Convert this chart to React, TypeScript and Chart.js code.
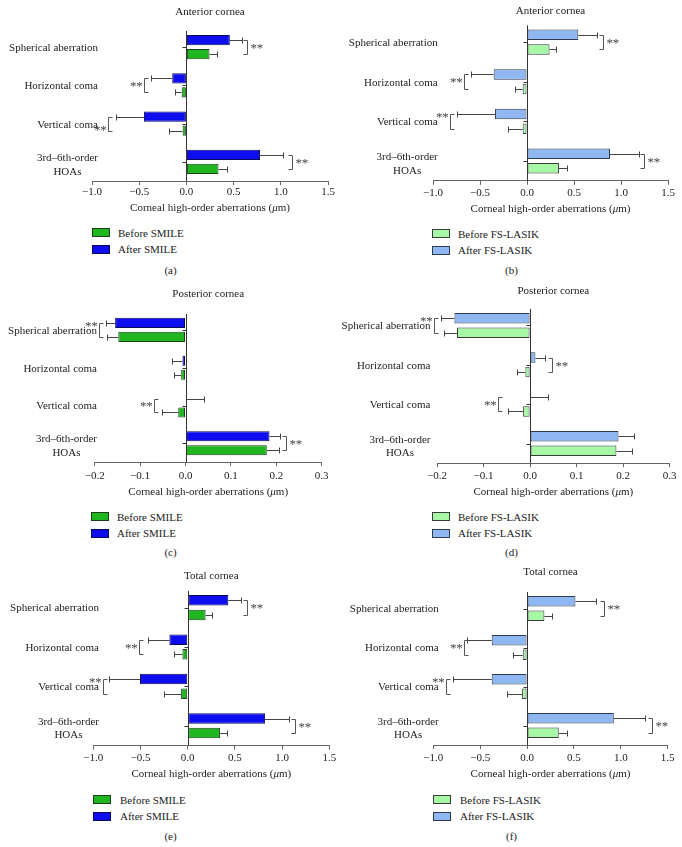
import React, { useEffect, useRef } from "react";
import { Chart, registerables } from "chart.js";

Chart.register(...registerables);

const FONT = "'Liberation Serif', 'Times New Roman', serif";

// ---------- shared text ----------
const CATEGORIES: (string | string[])[] = [
  "Spherical aberration",
  "Horizontal coma",
  "Vertical coma",
  ["3rd\u20136th-order", "HOAs"],
];
const X_TITLE_PARTS = ["Corneal high-order aberrations (", "\u03bc", "m)"];
const SMILE_LEGEND = ["Before SMILE", "After SMILE"];
const LASIK_LEGEND = ["Before FS-LASIK", "After FS-LASIK"];

// x ranges: [min, max, step]
const RANGE_WIDE = [-1.0, 1.5, 0.5];
const RANGE_POST = [-0.2, 0.3, 0.1];

// ---------- (a) Anterior cornea, SMILE ----------
const A_BEFORE = [0.245, -0.05, -0.04, 0.34];
const A_BEFORE_ERR = [0.08, 0.075, 0.14, 0.09];
const A_AFTER = [0.46, -0.15, -0.45, 0.78];
const A_AFTER_ERR = [0.125, 0.22, 0.3, 0.24];
// [category, x value, side, star position]
const A_SIG: [number, number, string, string][] = [
  [0, 0.645, "R", "mid"],
  [1, -0.445, "L", "mid"],
  [2, -0.835, "L", "bottom"],
  [3, 1.12, "R", "mid"],
];

// ---------- (b) Anterior cornea, FS-LASIK ----------
const B_BEFORE = [0.24, -0.046, -0.046, 0.34];
const B_BEFORE_ERR = [0.07, 0.084, 0.154, 0.09];
const B_AFTER = [0.546, -0.355, -0.34, 0.883];
const B_AFTER_ERR = [0.194, 0.245, 0.4, 0.312];
const B_SIG: [number, number, string, string][] = [
  [0, 0.81, "R", "mid"],
  [1, -0.67, "L", "mid"],
  [2, -0.82, "L", "top"],
  [3, 1.24, "R", "mid"],
];

// ---------- (c) Posterior cornea, SMILE ----------
const C_BEFORE = [-0.148, -0.0095, -0.016, 0.179];
const C_BEFORE_ERR = [0.024, 0.0165, 0.035, 0.026];
const C_AFTER = [-0.155, -0.0066, 0.001, 0.185];
const C_AFTER_ERR = [0.021, 0.024, 0.039, 0.024];
const C_SIG: [number, number, string, string][] = [
  [0, -0.19, "L", "top"],
  [2, -0.069, "L", "mid"],
  [3, 0.222, "R", "mid"],
];

// ---------- (d) Posterior cornea, FS-LASIK ----------
const D_BEFORE = [-0.157, -0.01, -0.015, 0.1855];
const D_BEFORE_ERR = [0.028, 0.019, 0.032, 0.0325];
const D_AFTER = [-0.1626, 0.0115, 0.001, 0.19];
const D_AFTER_ERR = [0.028, 0.0195, 0.038, 0.034];
const D_SIG: [number, number, string, string][] = [
  [0, -0.206, "L", "top"],
  [1, 0.047, "R", "mid"],
  [2, -0.0695, "L", "mid"],
];

// ---------- (e) Total cornea, SMILE ----------
const E_BEFORE = [0.19, -0.056, -0.07, 0.343];
const E_BEFORE_ERR = [0.07, 0.089, 0.177, 0.07];
const E_AFTER = [0.43, -0.194, -0.505, 0.82];
const E_AFTER_ERR = [0.13, 0.23, 0.328, 0.253];
const E_SIG: [number, number, string, string][] = [
  [0, 0.625, "R", "mid"],
  [1, -0.52, "L", "mid"],
  [2, -0.893, "L", "top"],
  [3, 1.137, "R", "mid"],
];

// ---------- (f) Total cornea, FS-LASIK ----------
const F_BEFORE = [0.185, -0.046, -0.053, 0.338];
const F_BEFORE_ERR = [0.078, 0.1, 0.164, 0.089];
const F_AFTER = [0.516, -0.377, -0.377, 0.925];
const F_AFTER_ERR = [0.22, 0.263, 0.416, 0.334];
const F_SIG: [number, number, string, string][] = [
  [0, 0.825, "R", "mid"],
  [1, -0.676, "L", "mid"],
  [2, -0.864, "L", "top"],
  [3, 1.33, "R", "mid"],
];

// ---------- styles ----------
const SMILE_COLORS = { before: "#20b620", beforeBorder: "#1d3f1d", after: "#0d0df0", afterBorder: "#0a0a5a" };
const LASIK_COLORS = { before: "#a6f7a6", beforeBorder: "#3a3a3a", after: "#8fb8f2", afterBorder: "#2f3a4a" };

type Layout = {
  col: number; row: number;
  left: number; right: number; top: number; bottom: number;
  titleCY: number; tickCY: number; xTitleCY: number; labelRight: number;
  legX: number; legY: number; legTextX: number; capY: number;
};

type PanelCfg = {
  title: string; caption: string;
  before: number[]; beforeErr: number[]; after: number[]; afterErr: number[];
  sig: [number, number, string, string][];
  range: number[]; legend: string[]; colors: typeof SMILE_COLORS; L: Layout;
};

const PANELS: PanelCfg[] = [
  {
    title: "Anterior cornea", caption: "(a)", before: A_BEFORE, beforeErr: A_BEFORE_ERR, after: A_AFTER, afterErr: A_AFTER_ERR,
    sig: A_SIG, range: RANGE_WIDE, legend: SMILE_LEGEND, colors: SMILE_COLORS,
    L: { col: 0, row: 0, left: 92, right: 328, top: 28, bottom: 181, titleCY: 12, tickCY: 192.5, xTitleCY: 208.3, labelRight: 98,
      legX: 92, legY: 228, legTextX: 118, capY: 270 },
  },
  {
    title: "Anterior cornea", caption: "(b)", before: B_BEFORE, beforeErr: B_BEFORE_ERR, after: B_AFTER, afterErr: B_AFTER_ERR,
    sig: B_SIG, range: RANGE_WIDE, legend: LASIK_LEGEND, colors: LASIK_COLORS,
    L: { col: 341, row: 0, left: 92, right: 327, top: 22.3, bottom: 180.8, titleCY: 11, tickCY: 193, xTitleCY: 209, labelRight: 96.7,
      legX: 91, legY: 229, legTextX: 117, capY: 270 },
  },
  {
    title: "Posterior cornea", caption: "(c)", before: C_BEFORE, beforeErr: C_BEFORE_ERR, after: C_AFTER, afterErr: C_AFTER_ERR,
    sig: C_SIG, range: RANGE_POST, legend: SMILE_LEGEND, colors: SMILE_COLORS,
    L: { col: 0, row: 280, left: 94.7, right: 321.7, top: 31, bottom: 182.2, titleCY: 14, tickCY: 195.7, xTitleCY: 212, labelRight: 97,
      legX: 91, legY: 232, legTextX: 117, capY: 272 },
  },
  {
    title: "Posterior cornea", caption: "(d)", before: D_BEFORE, beforeErr: D_BEFORE_ERR, after: D_AFTER, afterErr: D_AFTER_ERR,
    sig: D_SIG, range: RANGE_POST, legend: LASIK_LEGEND, colors: LASIK_COLORS,
    L: { col: 341, row: 280, left: 96, right: 328.7, top: 25.8, bottom: 183.2, titleCY: 11, tickCY: 196, xTitleCY: 212, labelRight: 89.5,
      legX: 91, legY: 232, legTextX: 117, capY: 272 },
  },
  {
    title: "Total cornea", caption: "(e)", before: E_BEFORE, beforeErr: E_BEFORE_ERR, after: E_AFTER, afterErr: E_AFTER_ERR,
    sig: E_SIG, range: RANGE_WIDE, legend: SMILE_LEGEND, colors: SMILE_COLORS,
    L: { col: 0, row: 560, left: 93.3, right: 329.3, top: 27.9, bottom: 185.5, titleCY: 15.7, tickCY: 198.3, xTitleCY: 214.3, labelRight: 99,
      legX: 93, legY: 235, legTextX: 120, capY: 276 },
  },
  {
    title: "Total cornea", caption: "(f)", before: F_BEFORE, beforeErr: F_BEFORE_ERR, after: F_AFTER, afterErr: F_AFTER_ERR,
    sig: F_SIG, range: RANGE_WIDE, legend: LASIK_LEGEND, colors: LASIK_COLORS,
    L: { col: 341, row: 560, left: 92.3, right: 326.7, top: 29, bottom: 185, titleCY: 12, tickCY: 198.3, xTitleCY: 214.3, labelRight: 97.7,
      legX: 92, legY: 235, legTextX: 119, capY: 276 },
  },
];

const fmtTick = (v: number) => {
  const s = Math.abs(v).toFixed(1);
  return v < -1e-9 ? "\u2212" + s : s;
};

function Panel({ cfg }: { cfg: PanelCfg }) {
  const ref = useRef<HTMLCanvasElement>(null);
  const L = cfg.L;
  const H = Math.ceil(L.xTitleCY + 10);

  useEffect(() => {
    if (!ref.current) return;
    const [min, max, step] = cfg.range;

    const decor = {
      id: "decor",
      afterDatasetsDraw(chart: any) {
        const { ctx, chartArea: ca, scales } = chart;
        const x = scales.x;
        const y = scales.y;
        const x0 = Math.round(x.getPixelForValue(0)) + 0.5;
        ctx.save();
        ctx.lineWidth = 1;
        // error bars
        ctx.strokeStyle = "#444";
        const sets = [
          [cfg.after, cfg.afterErr],
          [cfg.before, cfg.beforeErr],
        ];
        sets.forEach(([vals, errs], d) => {
          const meta = chart.getDatasetMeta(d);
          meta.data.forEach((el: any, i: number) => {
            const v = vals[i];
            const dir = v >= 0 ? 1 : -1;
            const xs = x.getPixelForValue(v);
            const xe = Math.round(x.getPixelForValue(v + dir * errs[i])) + 0.5;
            const yy = Math.round(el.y) + 0.5;
            ctx.beginPath();
            ctx.moveTo(xs, yy);
            ctx.lineTo(xe, yy);
            ctx.moveTo(xe, yy - 3);
            ctx.lineTo(xe, yy + 3);
            ctx.stroke();
          });
        });
        // zero axis line with category ticks
        ctx.strokeStyle = "#333";
        ctx.beginPath();
        ctx.moveTo(x0, ca.top + 3);
        ctx.lineTo(x0, ca.bottom);
        ctx.stroke();
        CATEGORIES.forEach((_, i) => {
          const yc = Math.round(y.getPixelForValue(i)) + 0.5;
          ctx.beginPath();
          ctx.moveTo(x0 - 4, yc);
          ctx.lineTo(x0, yc);
          ctx.stroke();
        });
        // significance brackets
        const m0 = chart.getDatasetMeta(0);
        const m1 = chart.getDatasetMeta(1);
        ctx.font = `13px ${FONT}`;
        ctx.textBaseline = "middle";
        ctx.textAlign = "left";
        const starW = 6.2;
        cfg.sig.forEach(([i, xv, side, star]) => {
          const y1 = Math.round(m0.data[i].y) + 0.5;
          const y2 = Math.round(m1.data[i].y) + 0.5;
          const bx = Math.round(x.getPixelForValue(xv)) + 0.5;
          const arm = side === "R" ? -4 : 4;
          ctx.strokeStyle = "#555";
          ctx.beginPath();
          ctx.moveTo(bx + arm, y1);
          ctx.lineTo(bx, y1);
          ctx.lineTo(bx, y2);
          ctx.lineTo(bx + arm, y2);
          ctx.stroke();
          let cy = (y1 + y2) / 2 - 1.5;
          if (star === "top") cy = y1 + 1;
          if (star === "bottom") cy = y2 - 3;
          ctx.fillStyle = "#444";
          const sx = side === "R" ? bx + 3 : bx - 2 - 2 * starW;
          ctx.fillText("*", sx, cy + 2.3);
          ctx.fillText("*", sx + starW, cy + 2.3);
        });
        ctx.restore();
      },
      afterDraw(chart: any) {
        const { ctx, chartArea: ca, scales } = chart;
        const y = scales.y;
        ctx.save();
        ctx.fillStyle = "#222";
        ctx.font = `11px ${FONT}`;
        ctx.textBaseline = "middle";
        ctx.textAlign = "center";
        // category labels (right-aligned block, centered lines)
        CATEGORIES.forEach((lab, i) => {
          const lines = Array.isArray(lab) ? lab : [lab];
          const w = Math.max(...lines.map((t) => ctx.measureText(t).width));
          const cx = L.labelRight - w / 2;
          const yc = y.getPixelForValue(i) + (lines.length > 1 ? 3 : 1);
          lines.forEach((t, j) => {
            ctx.fillText(t, cx, yc + (j - (lines.length - 1) / 2) * 13.5);
          });
        });
        // x-axis title with italic mu
        const fonts = [`11px ${FONT}`, `italic 11px ${FONT}`, `11px ${FONT}`];
        const widths = X_TITLE_PARTS.map((t, k) => {
          ctx.font = fonts[k];
          return ctx.measureText(t).width;
        });
        const total = widths.reduce((a, b) => a + b, 0);
        let px = (ca.left + ca.right) / 2 - total / 2;
        ctx.textAlign = "left";
        X_TITLE_PARTS.forEach((t, k) => {
          ctx.font = fonts[k];
          ctx.fillText(t, px, L.xTitleCY);
          px += widths[k];
        });
        ctx.restore();
      },
    };

    const chart = new Chart(ref.current, {
      type: "bar",
      data: {
        labels: CATEGORIES as any,
        datasets: [
          {
            label: cfg.legend[1],
            data: cfg.after,
            backgroundColor: cfg.colors.after,
            borderColor: cfg.colors.afterBorder,
            borderWidth: 1,
            borderSkipped: false,
            categoryPercentage: 0.74,
            barPercentage: 0.72,
          },
          {
            label: cfg.legend[0],
            data: cfg.before,
            backgroundColor: cfg.colors.before,
            borderColor: cfg.colors.beforeBorder,
            borderWidth: 1,
            borderSkipped: false,
            categoryPercentage: 0.74,
            barPercentage: 0.72,
          },
        ],
      },
      options: {
        indexAxis: "y",
        animation: false,
        responsive: false,
        maintainAspectRatio: false,
        events: [],
        layout: { padding: { left: 0, right: 341 - L.right, top: 0, bottom: 0 } },
        plugins: {
          legend: { display: false },
          tooltip: { enabled: false },
          title: {
            display: true,
            text: cfg.title,
            fullSize: false,
            color: "#222",
            font: { family: FONT, size: 11, weight: "normal", lineHeight: 1.2 },
            padding: { top: L.titleCY - 6.6, bottom: L.top - L.titleCY - 6.6 },
          },
        },
        scales: {
          x: {
            type: "linear",
            min,
            max,
            ticks: {
              stepSize: step,
              callback: (v: any) => fmtTick(Number(v)),
              color: "#222",
              font: { family: FONT, size: 11, lineHeight: 1.2 },
              padding: L.tickCY - L.bottom - 4 - 6.6,
              maxRotation: 0,
              autoSkip: false,
            },
            grid: { display: true, drawOnChartArea: false, drawTicks: true, tickLength: 4, color: "#666", lineWidth: 1 },
            border: { display: true, color: "#666", width: 1 },
            afterFit: (s: any) => {
              s.height = H - L.bottom;
            },
          },
          y: {
            type: "category",
            offset: true,
            ticks: { display: false },
            grid: { display: false },
            border: { display: false },
            afterFit: (s: any) => {
              s.width = L.left;
            },
          },
        },
      } as any,
      plugins: [decor],
    });
    return () => chart.destroy();
  }, []);

  const legColors = [
    [cfg.colors.before, cfg.colors.beforeBorder],
    [cfg.colors.after, cfg.colors.afterBorder],
  ];

  return (
    <>
      <canvas
        ref={ref}
        width={341}
        height={H}
        style={{ position: "absolute", left: L.col, top: L.row, width: 341, height: H, display: "block" }}
      />
      {cfg.legend.map((t, k) => (
        <React.Fragment key={t}>
          <div
            style={{
              position: "absolute",
              left: L.col + L.legX,
              top: L.row + L.legY + k * 16.5,
              width: 18,
              height: 9,
              boxSizing: "border-box",
              border: `1px solid ${legColors[k][1]}`,
              background: legColors[k][0],
            }}
          />
          <div
            style={{
              position: "absolute",
              left: L.col + L.legTextX,
              top: L.row + L.legY + k * 16.5 + 4.5 - 7,
              font: `11px ${FONT}`,
              lineHeight: "14px",
              color: "#222",
              whiteSpace: "nowrap",
            }}
          >
            {t}
          </div>
        </React.Fragment>
      ))}
      <div
        style={{
          position: "absolute",
          left: L.col,
          width: 341,
          top: L.row + L.capY - 7,
          textAlign: "center",
          font: `11px ${FONT}`,
          lineHeight: "14px",
          color: "#222",
        }}
      >
        {cfg.caption}
      </div>
    </>
  );
}

export default function App() {
  return (
    <div style={{ position: "absolute", left: 0, top: 0, width: 682, height: 847, background: "#fff", overflow: "hidden" }}>
      {PANELS.map((p, i) => (
        <Panel key={i} cfg={p} />
      ))}
    </div>
  );
}
